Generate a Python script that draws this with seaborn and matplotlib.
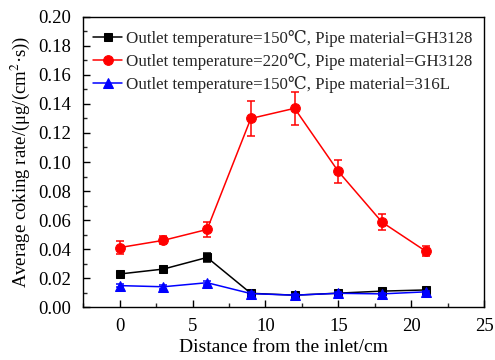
import matplotlib
matplotlib.use("Agg")
import matplotlib.pyplot as plt
import seaborn as sns
import pandas as pd
import numpy as np
from matplotlib.ticker import MultipleLocator

distance = [0, 3, 6, 9, 12, 15, 18, 21]
black_y = [0.0228, 0.0262, 0.0342, 0.0095, 0.0082, 0.0096, 0.0110, 0.0118]
black_err = [0.0012, 0.0010, 0.0030, 0.0008, 0.0006, 0.0008, 0.0008, 0.0008]
red_y = [0.0410, 0.0460, 0.0535, 0.1300, 0.1370, 0.0935, 0.0585, 0.0385]
red_err = [0.0045, 0.0028, 0.0050, 0.0120, 0.0115, 0.0080, 0.0055, 0.0035]
blue_y = [0.0148, 0.0140, 0.0168, 0.0093, 0.0082, 0.0095, 0.0091, 0.0105]
blue_err = [0.0012, 0.0012, 0.0015, 0.0010, 0.0008, 0.0008, 0.0008, 0.0008]

labels = ["Outlet temperature=150℃, Pipe material=GH3128",
          "Outlet temperature=220℃, Pipe material=GH3128",
          "Outlet temperature=150℃, Pipe material=316L"]

sns.set_theme(style="white")
plt.rcParams['font.family'] = ['Liberation Serif', 'DejaVu Serif']
plt.rcParams['mathtext.fontset'] = 'stix'

fig, ax = plt.subplots(figsize=(4.95, 3.6), dpi=100)
fig.subplots_adjust(left=0.168, right=0.978, top=0.953, bottom=0.147)

series = [(black_y, black_err, 'black', 's', labels[0]),
          (red_y, red_err, 'red', 'o', labels[1]),
          (blue_y, blue_err, 'blue', '^', labels[2])]

for y, e, c, m, lab in series:
    df = pd.DataFrame({"x": distance, "y": y})
    sns.lineplot(data=df, x="x", y="y", color=c, marker=m, markersize=7 if m != 's' else 6,
                 markeredgecolor=c, linewidth=1.1, label=lab, ax=ax)
    ax.errorbar(distance, y, yerr=e, fmt='none', ecolor=c, elinewidth=1.1, capsize=3, capthick=1.1)

ax.set_xlim(-2.5, 25)
ax.set_ylim(0, 0.20)
ax.xaxis.set_major_locator(MultipleLocator(5))
ax.xaxis.set_minor_locator(MultipleLocator(2.5))
ax.yaxis.set_major_locator(MultipleLocator(0.02))
ax.yaxis.set_minor_locator(MultipleLocator(0.01))
ax.yaxis.set_major_formatter(matplotlib.ticker.FormatStrFormatter('%.2f'))
ax.tick_params(which='major', direction='in', length=5, width=1, labelsize=13.5, colors='black')
ax.tick_params(which='minor', direction='in', length=3, width=1)
ax.tick_params(axis='x', which='major', pad=8)
ax.tick_params(axis='y', which='major', pad=9)
ax.tick_params(axis='both', which='both', bottom=True, left=True, top=False, right=False)
for s in ax.spines.values():
    s.set_color('black')
    s.set_linewidth(1)

ax.set_xlabel("Distance from the inlet/cm", fontsize=14, color='black', labelpad=3)
ax.set_ylabel("Average coking rate/(μg/(cm$^2$·s))", fontsize=13.5, color='black', labelpad=4)

leg = ax.legend(loc='upper left', frameon=False, fontsize=12.2, handlelength=1.7,
                handletextpad=0.2, borderaxespad=0.2, labelspacing=0.35,
                bbox_to_anchor=(0.0, 0.99))

fig.savefig("out.png", dpi=100)
